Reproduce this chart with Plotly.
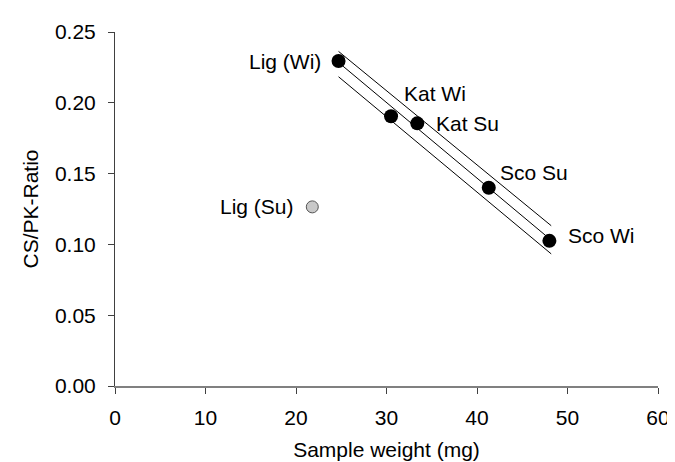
import plotly.graph_objects as go

# Data
labels = ["Lig (Wi)", "Kat Wi", "Kat Su", "Sco Su", "Sco Wi"]
weight = [24.7, 30.5, 33.4, 41.3, 48.0]
ratio = [0.2295, 0.1905, 0.1855, 0.140, 0.1025]

out_label = ["Lig (Su)"]
out_weight = [21.8]
out_ratio = [0.1265]

# regression line and band (end points)
fit_x = [24.7, 48.2]
fit_y = [0.2285, 0.1030]
upper_y = [0.2363, 0.1132]
lower_y = [0.2184, 0.0933]

x_ticks = [0, 10, 20, 30, 40, 50, 60]
y_ticks = [0.00, 0.05, 0.10, 0.15, 0.20, 0.25]

FONT = "Liberation Sans, Arial, sans-serif"
FS = 21

fig = go.Figure()
for yy in (fit_y, upper_y, lower_y):
    fig.add_trace(go.Scatter(x=fit_x, y=yy, mode="lines",
                             line=dict(color="black", width=1), hoverinfo="skip"))
fig.add_trace(go.Scatter(x=weight, y=ratio, mode="markers",
                         marker=dict(color="black", size=14, line=dict(width=0))))
fig.add_trace(go.Scatter(x=out_weight, y=out_ratio, mode="markers",
                         marker=dict(color="#c8c8c8", size=12,
                                     line=dict(color="#555555", width=1))))

# label placement (pixel offsets from the point)
shifts = {
    "Lig (Wi)": ("right", -16, 0),
    "Kat Wi": ("left", 11, 23),
    "Kat Su": ("left", 17, 0),
    "Sco Su": ("left", 9, 15),
    "Sco Wi": ("left", 17, 5),
    "Lig (Su)": ("right", -16, 0),
}
for lab, xv, yv in list(zip(labels, weight, ratio)) + list(zip(out_label, out_weight, out_ratio)):
    anc, dx, dy = shifts[lab]
    fig.add_annotation(x=xv, y=yv, text=lab, showarrow=False, xanchor=anc,
                       yanchor="middle", xshift=dx, yshift=dy,
                       font=dict(family=FONT, size=FS, color="black"))

fig.update_layout(
    width=675, height=462,
    margin=dict(l=107, r=25, t=23, b=74),
    paper_bgcolor="white", plot_bgcolor="white",
    showlegend=False,
    font=dict(family=FONT, size=FS, color="black"),
)
fig.update_xaxes(range=[0, 60], tickvals=x_ticks, ticktext=[str(v) for v in x_ticks],
                 showgrid=False, zeroline=False, showline=True,
                 linecolor="#808080", linewidth=2, ticks="outside", ticklen=6,
                 tickcolor="#404040", tickwidth=1, ticklabelstandoff=6,
                 title=dict(text="Sample weight (mg)", standoff=14,
                            font=dict(family=FONT, size=FS)))
fig.update_yaxes(range=[0, 0.25], tickvals=y_ticks, ticktext=[f"{v:.2f}" for v in y_ticks],
                 showgrid=False, zeroline=False, showline=True,
                 linecolor="#404040", linewidth=1, ticks="outside", ticklen=6,
                 tickcolor="#404040", tickwidth=1, ticklabelstandoff=8,
                 title=dict(text="CS/PK-Ratio", standoff=10,
                            font=dict(family=FONT, size=FS)))

fig.write_html("out.html")
